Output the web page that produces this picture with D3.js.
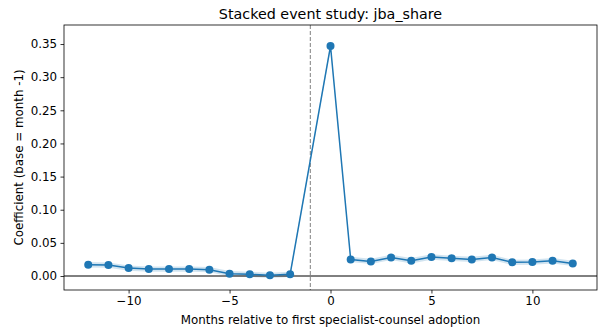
<!DOCTYPE html>
<html>
<head>
<meta charset="utf-8">
<script src="https://cdn.jsdelivr.net/npm/d3@7/dist/d3.min.js"></script>
<style>
  html, body { margin: 0; padding: 0; background: #fff; }
  svg { display: block; font-family: "DejaVu Sans", sans-serif; }
</style>
</head>
<body>
<svg id="chart" width="600" height="329"></svg>
<script>
// Event-time months (month -1 is the omitted base period)
const months = [-12, -11, -10, -9, -8, -7, -6, -5, -4, -3, -2, 0, 1, 2, 3, 4, 5, 6, 7, 8, 9, 10, 11, 12];
// Point estimates
const coef = [0.017, 0.0165, 0.012, 0.0105, 0.0105, 0.0105, 0.0095, 0.0035, 0.0025, 0.001, 0.0025,
              0.347, 0.025, 0.022, 0.028, 0.023, 0.0287, 0.0267, 0.025, 0.028, 0.0206, 0.021, 0.023, 0.019];
// 95% confidence bounds
const ciLow = [0.013, 0.0125, 0.008, 0.0065, 0.0065, 0.0065, 0.0055, -0.0005, -0.0015, -0.003, -0.0015,
               0.343, 0.021, 0.018, 0.024, 0.019, 0.0247, 0.0227, 0.021, 0.024, 0.0166, 0.017, 0.019, 0.015];
const ciHigh = [0.021, 0.0205, 0.016, 0.0145, 0.0145, 0.0145, 0.0135, 0.0075, 0.0065, 0.005, 0.0065,
                0.351, 0.029, 0.026, 0.032, 0.027, 0.0327, 0.0307, 0.029, 0.032, 0.0246, 0.025, 0.027, 0.023];
const xTicks = [-10, -5, 0, 5, 10];
const yTicks = [0, 0.05, 0.10, 0.15, 0.20, 0.25, 0.30, 0.35];
const baseMonth = -1;

const rows = months.map((m, i) => ({ m, v: coef[i], lo: ciLow[i], hi: ciHigh[i] }));

const svg = d3.select("#chart");
const margin = { left: 64, right: 3, top: 25, bottom: 39 };
const W = 600, H = 329;
const x = d3.scaleLinear().domain([-13.2, 13.2]).range([margin.left, W - margin.right]);
const y = d3.scaleLinear().domain([-0.0211, 0.3787]).range([H - margin.bottom, margin.top]);
const blue = "#1f77b4";
const fs = 11.85;

// confidence band
svg.append("path")
  .datum(rows)
  .attr("fill", blue)
  .attr("fill-opacity", 0.2)
  .attr("d", d3.area().x(d => x(d.m)).y0(d => y(d.lo)).y1(d => y(d.hi)));

// zero reference line
svg.append("line")
  .attr("x1", margin.left).attr("x2", W - margin.right)
  .attr("y1", y(0)).attr("y2", y(0))
  .attr("stroke", "#000").attr("stroke-width", 1);

// base-period marker
svg.append("line")
  .attr("x1", x(baseMonth)).attr("x2", x(baseMonth))
  .attr("y1", margin.top).attr("y2", H - margin.bottom)
  .attr("stroke", "#808080").attr("stroke-width", 1)
  .attr("stroke-dasharray", "4,2");

// estimate line + markers
svg.append("path")
  .datum(rows)
  .attr("fill", "none")
  .attr("stroke", blue)
  .attr("stroke-width", 1.5)
  .attr("d", d3.line().x(d => x(d.m)).y(d => y(d.v)));

svg.append("g").selectAll("circle")
  .data(rows).join("circle")
  .attr("cx", d => x(d.m)).attr("cy", d => y(d.v))
  .attr("r", 4).attr("fill", blue);

// axes
const xAxis = svg.append("g")
  .attr("transform", `translate(0,${H - margin.bottom})`)
  .call(d3.axisBottom(x).tickValues(xTicks).tickSize(3.5).tickPadding(3)
    .tickFormat(d => d < 0 ? "\u2212" + Math.abs(d) : d));
const yAxis = svg.append("g")
  .attr("transform", `translate(${margin.left},0)`)
  .call(d3.axisLeft(y).tickValues(yTicks).tickSize(3.5).tickPadding(3.5)
    .tickFormat(d3.format(".2f")));
[xAxis, yAxis].forEach(g => {
  g.select(".domain").remove();
  g.selectAll("text").attr("font-size", fs).attr("fill", "#000").attr("font-family", "DejaVu Sans");
  g.selectAll("line").attr("stroke", "#000").attr("stroke-width", 0.8);
});

// frame
svg.append("rect")
  .attr("x", margin.left).attr("y", margin.top)
  .attr("width", W - margin.left - margin.right)
  .attr("height", H - margin.top - margin.bottom)
  .attr("fill", "none").attr("stroke", "#000").attr("stroke-width", 0.8);

// titles
svg.append("text")
  .attr("x", (margin.left + W - margin.right) / 2).attr("y", 19)
  .attr("text-anchor", "middle").attr("font-size", 14.3)
  .text("Stacked event study: jba_share");
svg.append("text")
  .attr("x", (margin.left + W - margin.right) / 2).attr("y", 324)
  .attr("text-anchor", "middle").attr("font-size", fs)
  .text("Months relative to first specialist-counsel adoption");
svg.append("text")
  .attr("transform", `translate(22.5,${(margin.top + H - margin.bottom) / 2}) rotate(-90)`)
  .attr("text-anchor", "middle").attr("font-size", fs)
  .text("Coefficient (base = month -1)");
</script>
</body>
</html>
